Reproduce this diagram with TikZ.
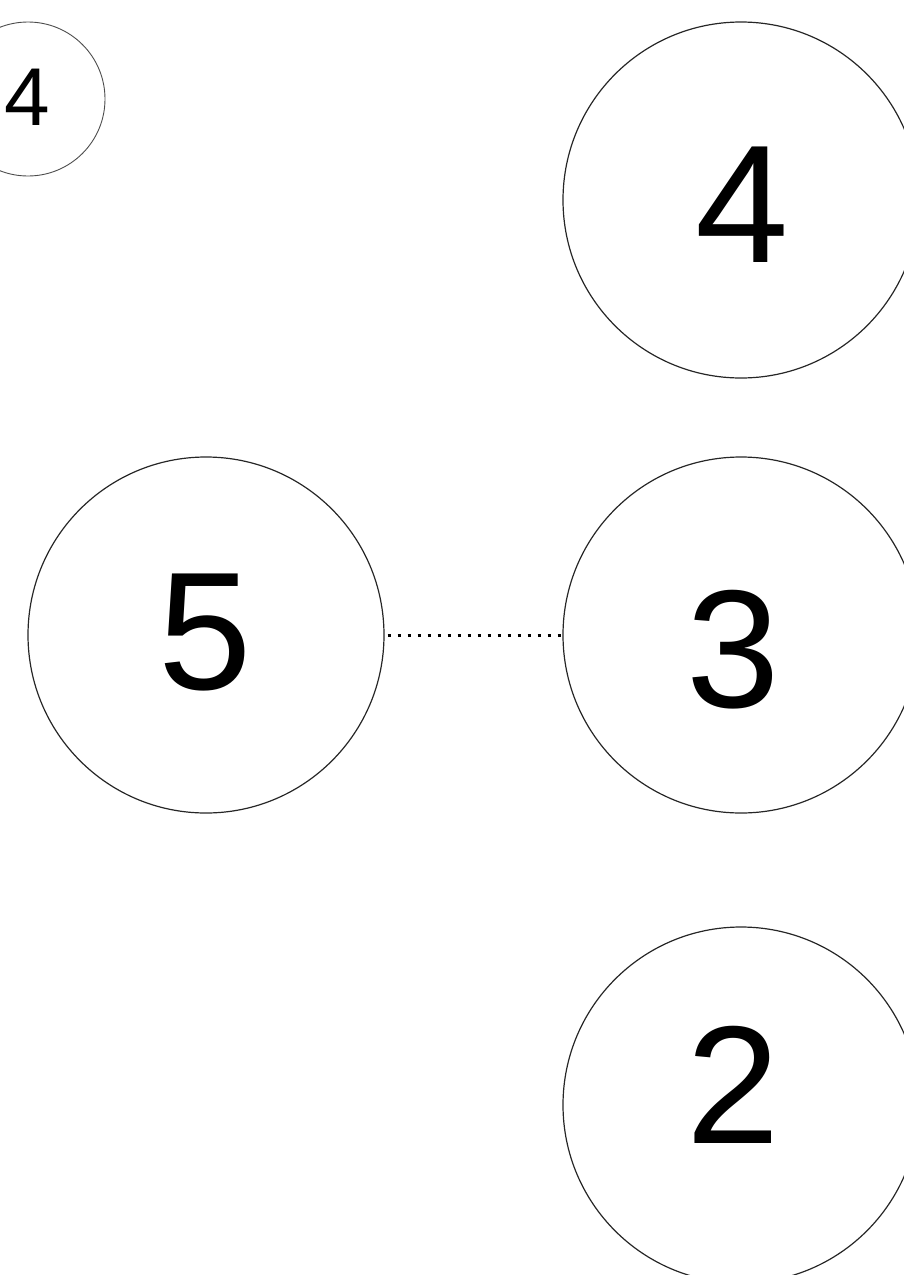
\documentclass[tikz,border=0pt]{standalone}
\usepackage{fontspec}
\setmainfont{Liberation Sans}
\begin{document}
\begin{tikzpicture}[x=1pt,y=-1pt,
  ring/.style={circle,draw=black!85,line width=1.2pt,minimum size=356pt,inner sep=0pt},
  smallring/.style={circle,draw=black!70,line width=0.9pt,minimum size=154pt,inner sep=0pt},
  bigdigit/.style={inner sep=0pt,font=\fontsize{168}{168}\selectfont},
  smalldigit/.style={inner sep=0pt,font=\fontsize{82}{82}\selectfont}]
\useasboundingbox (0,0) rectangle (903,1275);
\node[smallring] (c0) at (28,99) {};
\node[ring] (c4) at (741,200) {};
\node[ring] (c5) at (206,635) {};
\node[ring] (c3) at (741,635) {};
\node[ring] (c2) at (741,1105) {};
\node[smalldigit] (t0) at (27,97) {4};
\node[bigdigit] (t4) at (742,205) {4};
\node[bigdigit] (t5) at (205,633) {5};
\node[bigdigit] (t3) at (733,650) {3};
\node[bigdigit] (t2) at (733,1085) {2};
\draw[line width=3pt,dash pattern=on 3pt off 7pt,shorten <=3pt] (c5.east) -- (c3.west);
\end{tikzpicture}
\end{document}
